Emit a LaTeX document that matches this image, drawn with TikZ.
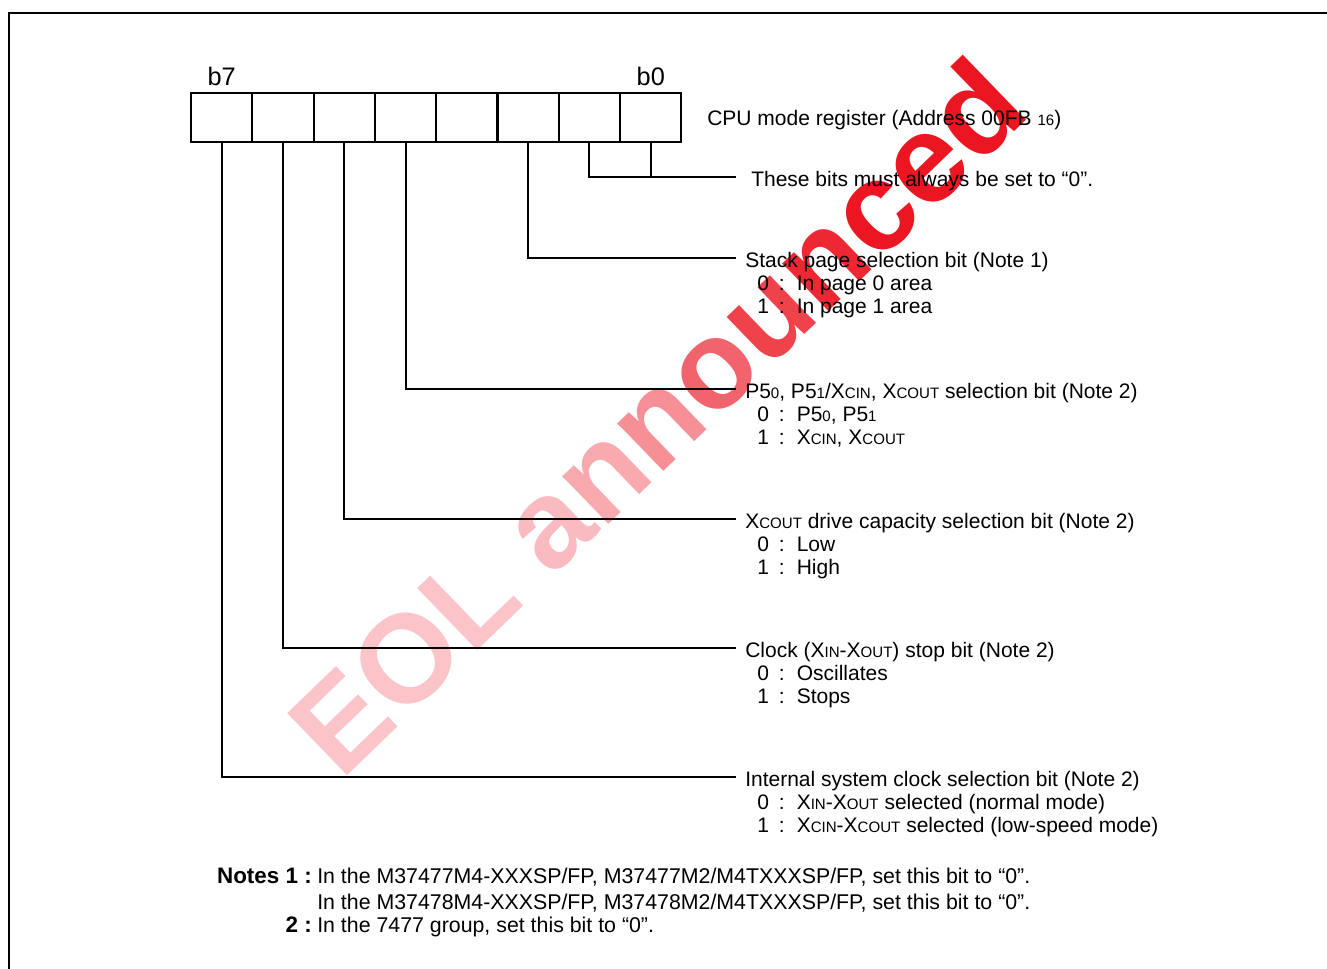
\documentclass[tikz,border=0pt]{standalone}
\usepackage{fontspec}
\setmainfont{Liberation Sans}
\usetikzlibrary{positioning, calc}

\definecolor{eolred}{RGB}{236, 22, 34}
\definecolor{eolpink}{RGB}{250, 196, 200}
% small capitals / subscripts of the pin names
\newcommand{\lo}[1]{{\fontsize{11.3}{12}\selectfont #1}}
\newcommand{\bitopt}[2]{#1\hspace{7.5pt}:\hspace{9pt}#2}
% one watermark letter, #1 = percent of red
\newcommand{\wm}[2]{\textcolor{eolred!#1!eolpink}{#2}}

\begin{document}
\begin{tikzpicture}[x=0.75pt, y=-0.75pt,
    font=\fontsize{15.75}{17.25}\selectfont,
    cell/.style={draw, line width=1.5pt, minimum width=46pt, minimum height=36.75pt, inner sep=0pt},
    lead/.style={line width=1.5pt},
    bitlbl/.style={font=\fontsize{19}{19}\selectfont, inner sep=0pt},
    title/.style={anchor=west, inner xsep=6.75pt, inner ysep=0pt, text height=17.5pt, text depth=3.3pt},
    opt/.style={anchor=base west, inner sep=0pt},
    note/.style={anchor=base west, inner sep=0pt, font=\fontsize{16}{17.25}\selectfont},
    notekey/.style={anchor=base east, inner sep=0pt, font=\fontsize{16.8}{17.25}\selectfont\bfseries},
    wmark/.style={rotate=44, inner sep=0pt, font=\fontsize{94}{94}\selectfont\bfseries}]

  \useasboundingbox (0,0) rectangle (1327,969);

  % Watermark, pale at the E, red at the d
  \node[wmark] (eol) at (656,416) {\wm{0}{E}\wm{0}{O}\wm{0}{L} \wm{5}{a}\wm{15}{n}\wm{30}{n}\wm{55}{o}\wm{75}{u}\wm{90}{n}\wm{100}{c}\wm{100}{e}\wm{100}{d}};

  % Frame
  \draw[line width=2pt] (1327,13) -- (9,13) -- (9,969);

  % Register cells, b7 on the left
  \foreach \i in {0,...,7}
    \node[cell] (c\i) at ({650.75-61.3*\i},117.3) {};
  \node[bitlbl, above=4pt of c7] (lb7) {b7};
  \node[bitlbl, above=4pt of c0] (lb0) {b0};
  \node[anchor=west, inner sep=0pt] (reg) at (707,120) {CPU mode register (Address 00FB \lo{16})};

  % Bit descriptions
  \node[title, inner xsep=11.25pt] (fix) at (736,177) {These bits must always be set to “0”.};

  \node[title] (stk) at (736,258) {Stack page selection bit (Note 1)};
  \node[opt] (stk0) at ($(stk.west)+(21,32.5)$) {\bitopt{0}{In page 0 area}};
  \node[opt] (stk1) at ($(stk.west)+(21,55.5)$) {\bitopt{1}{In page 1 area}};

  \node[title] (p5) at (736,389) {P5\lo{0}, P5\lo{1}/X\lo{CIN}, X\lo{COUT} selection bit (Note 2)};
  \node[opt] (p50) at ($(p5.west)+(21,32.5)$) {\bitopt{0}{P5\lo{0}, P5\lo{1}}};
  \node[opt] (p51) at ($(p5.west)+(21,55.5)$) {\bitopt{1}{X\lo{CIN}, X\lo{COUT}}};

  \node[title] (xco) at (736,519) {X\lo{COUT} drive capacity selection bit (Note 2)};
  \node[opt] (xco0) at ($(xco.west)+(21,32.5)$) {\bitopt{0}{Low}};
  \node[opt] (xco1) at ($(xco.west)+(21,55.5)$) {\bitopt{1}{High}};

  \node[title] (clk) at (736,648) {Clock (X\lo{IN}-X\lo{OUT}) stop bit (Note 2)};
  \node[opt] (clk0) at ($(clk.west)+(21,32.5)$) {\bitopt{0}{Oscillates}};
  \node[opt] (clk1) at ($(clk.west)+(21,55.5)$) {\bitopt{1}{Stops}};

  \node[title] (isc) at (736,777) {Internal system clock selection bit (Note 2)};
  \node[opt] (isc0) at ($(isc.west)+(21,32.5)$) {\bitopt{0}{X\lo{IN}-X\lo{OUT} selected (normal mode)}};
  \node[opt] (isc1) at ($(isc.west)+(21,55.5)$) {\bitopt{1}{X\lo{CIN}-X\lo{COUT} selected (low-speed mode)}};

  % Leaders from the bits
  \draw[lead] (c1.south) |- (fix.west);
  \draw[lead] (c0.south) -- (c0.south |- fix.west);
  \draw[lead] (c2.south) |- (stk.west);
  \draw[lead] (c4.south) |- (p5.west);
  \draw[lead] (c5.south) |- (xco.west);
  \draw[lead] (c6.south) |- (clk.west);
  \draw[lead] (c7.south) |- (isc.west);

  % Notes
  \node[note] (n1a) at (317,883) {In the M37477M4-XXXSP/FP, M37477M2/M4TXXXSP/FP, set this bit to “0”.};
  \node[notekey] (k1) at ($(n1a.base west)+(-5,0)$) {Notes 1 :};
  \node[note] (n1b) at (317,909) {In the M37478M4-XXXSP/FP, M37478M2/M4TXXXSP/FP, set this bit to “0”.};
  \node[note] (n2) at (317,932) {In the 7477 group, set this bit to “0”.};
  \node[notekey] (k2) at ($(n2.base west)+(-5,0)$) {2 :};
\end{tikzpicture}
\end{document}
